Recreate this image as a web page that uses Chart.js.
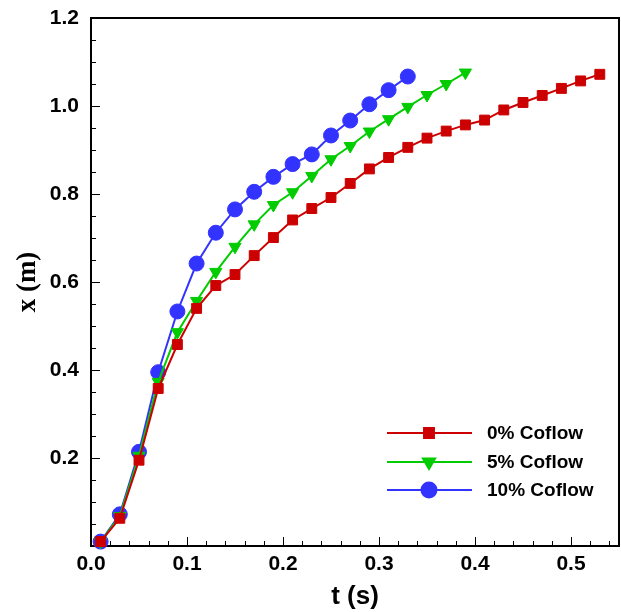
<!DOCTYPE html>
<html>
<head>
<meta charset="utf-8">
<script src="https://cdn.jsdelivr.net/npm/chart.js@4"></script>
<style>
    html, body { margin: 0; padding: 0; background: #fff; }
    #wrap { width: 621px; height: 612px; }
</style>
</head>
<body>
<div id="wrap"><canvas id="coflowChart" width="621" height="612"></canvas></div>
<script>
// data: time (s) and front position (m)
const tRed = [0.01, 0.03, 0.05, 0.07, 0.09, 0.11, 0.13, 0.15, 0.17, 0.19, 0.21, 0.23, 0.25, 0.27,
    0.29, 0.31, 0.33, 0.35, 0.37, 0.39, 0.41, 0.43, 0.45, 0.47, 0.49, 0.51, 0.53];
const xRed = [0.010, 0.063, 0.195, 0.358, 0.458, 0.540, 0.592, 0.617, 0.660, 0.701, 0.741, 0.767, 0.792, 0.824,
    0.857, 0.883, 0.906, 0.927, 0.943, 0.957, 0.968, 0.991, 1.008, 1.024, 1.040, 1.057, 1.072];

const tGreen = [0.01, 0.03, 0.05, 0.07, 0.09, 0.11, 0.13, 0.15, 0.17, 0.19, 0.21, 0.23, 0.25, 0.27,
    0.29, 0.31, 0.33, 0.35, 0.37, 0.39];
const xGreen = [0.010, 0.068, 0.205, 0.373, 0.486, 0.557, 0.623, 0.680, 0.731, 0.775, 0.804, 0.841, 0.879, 0.909,
    0.942, 0.970, 0.998, 1.025, 1.050, 1.076];

const tBlue = [0.01, 0.03, 0.05, 0.07, 0.09, 0.11, 0.13, 0.15, 0.17, 0.19, 0.21, 0.23, 0.25, 0.27,
    0.29, 0.31, 0.33];
const xBlue = [0.010, 0.072, 0.214, 0.395, 0.533, 0.642, 0.712, 0.765, 0.805, 0.839, 0.868, 0.890, 0.933, 0.967,
    1.004, 1.036, 1.067];

const seriesLabels = ['0% Coflow', '5% Coflow', '10% Coflow'];

const FONT = "'Liberation Sans', Arial, sans-serif";

function toPoints(ts, xs) {
    return ts.map((t, i) => ({ x: t, y: xs[i] }));
}

// frame + inward ticks (major and minor), drawn under the markers
const frameTicks = {
    id: 'frameTicks',
    beforeDatasetsDraw(chart) {
        const { ctx, chartArea: a, scales } = chart;
        const sx = scales.x, sy = scales.y;
        ctx.save();
        ctx.strokeStyle = '#000';
        ctx.lineWidth = 1;
        // minor x every 0.02
        for (let i = 0; i <= 27; i++) {
            const v = i * 0.02;
            const px = Math.round(sx.getPixelForValue(v)) + 0.5;
            const len = (i % 5 === 0) ? 9 : 5;
            ctx.beginPath();
            ctx.moveTo(px, a.bottom);
            ctx.lineTo(px, a.bottom - len);
            ctx.stroke();
        }
        // minor y every 0.05
        for (let i = 0; i <= 24; i++) {
            const v = i * 0.05;
            const py = Math.round(sy.getPixelForValue(v)) + 0.5;
            const len = (i % 4 === 0) ? 9 : 5;
            ctx.beginPath();
            ctx.moveTo(a.left, py);
            ctx.lineTo(a.left + len, py);
            ctx.stroke();
        }
        ctx.lineWidth = 2;
        ctx.strokeRect(a.left, a.top, a.right - a.left, a.bottom - a.top);
        ctx.restore();
    }
};

// legend inside the plot: line with marker in the middle
const insideLegend = {
    id: 'insideLegend',
    afterDatasetsDraw(chart) {
        const ctx = chart.ctx;
        const rows = [433, 462, 490];
        ctx.save();
        chart.data.datasets.forEach((ds, i) => {
            const y = rows[i];
            ctx.strokeStyle = ds.borderColor;
            ctx.lineWidth = 2;
            ctx.beginPath();
            ctx.moveTo(387, y);
            ctx.lineTo(472, y);
            ctx.stroke();
            ctx.fillStyle = ds.pointBackgroundColor;
            ctx.strokeStyle = ds.pointBorderColor;
            Chart.helpers.drawPoint(ctx, {
                pointStyle: ds.pointStyle,
                radius: ds.pointRadius,
                rotation: ds.pointRotation || 0,
                borderWidth: 1
            }, 429, y);
            ctx.fillStyle = '#000';
            ctx.font = 'bold 19px ' + FONT;
            ctx.textBaseline = 'middle';
            ctx.textAlign = 'left';
            ctx.fillText(ds.label, 487, y + 1);
        });
        ctx.restore();
    }
};

function makeSet(label, pts, color, style, radius, rotation) {
    return {
        label: label,
        data: pts,
        showLine: true,
        borderColor: color,
        borderWidth: 2,
        pointStyle: style,
        pointRadius: radius,
        pointHoverRadius: radius,
        pointRotation: rotation,
        pointBackgroundColor: color,
        pointBorderColor: color,
        pointBorderWidth: 1,
        clip: false
    };
}

new Chart(document.getElementById('coflowChart').getContext('2d'), {
    type: 'scatter',
    data: {
        datasets: [
            makeSet(seriesLabels[0], toPoints(tRed, xRed), '#cc0000', 'rect', 7, 0),
            makeSet(seriesLabels[1], toPoints(tGreen, xGreen), '#00cc00', 'triangle', 7, 180),
            makeSet(seriesLabels[2], toPoints(tBlue, xBlue), '#3333ff', 'circle', 7.5, 0)
        ]
    },
    options: {
        responsive: false,
        animation: false,
        layout: {
            autoPadding: false,
            padding: { top: 18, right: 2, left: 0, bottom: 0 }
        },
        plugins: {
            legend: { display: false },
            tooltip: { enabled: false }
        },
        scales: {
            x: {
                type: 'linear',
                min: 0,
                max: 0.55,
                grid: { display: false, drawTicks: false },
                border: { display: false },
                afterFit: function (s) {
                    s.height = 66;
                    s.paddingLeft = 0;
                    s.paddingRight = 0;
                },
                ticks: {
                    stepSize: 0.1,
                    includeBounds: false,
                    maxRotation: 0,
                    padding: 6,
                    color: '#000',
                    font: { family: FONT, size: 21, weight: 'bold' },
                    callback: function (v) { return v.toFixed(1); }
                },
                title: {
                    display: true,
                    text: 't (s)',
                    color: '#000',
                    font: { family: FONT, size: 26, weight: 'bold' },
                    padding: { top: 0, bottom: 0 }
                }
            },
            y: {
                type: 'linear',
                min: 0,
                max: 1.2,
                grid: { display: false, drawTicks: false },
                border: { display: false },
                afterFit: function (s) {
                    s.width = 91;
                    s.paddingTop = 0;
                    s.paddingBottom = 0;
                },
                ticks: {
                    stepSize: 0.2,
                    padding: 12,
                    color: '#000',
                    font: { family: FONT, size: 21, weight: 'bold' },
                    // the y axis leaves its zero unlabelled
                    callback: function (v) { return v === 0 ? '' : v.toFixed(1); }
                },
                title: {
                    display: true,
                    text: 'x (m)',
                    color: '#000',
                    font: { family: "'Liberation Serif', 'Times New Roman', serif", size: 27, weight: 'bold' },
                    padding: { top: 12, bottom: 0 }
                }
            }
        }
    },
    plugins: [frameTicks, insideLegend]
});
</script>
</body>
</html>
